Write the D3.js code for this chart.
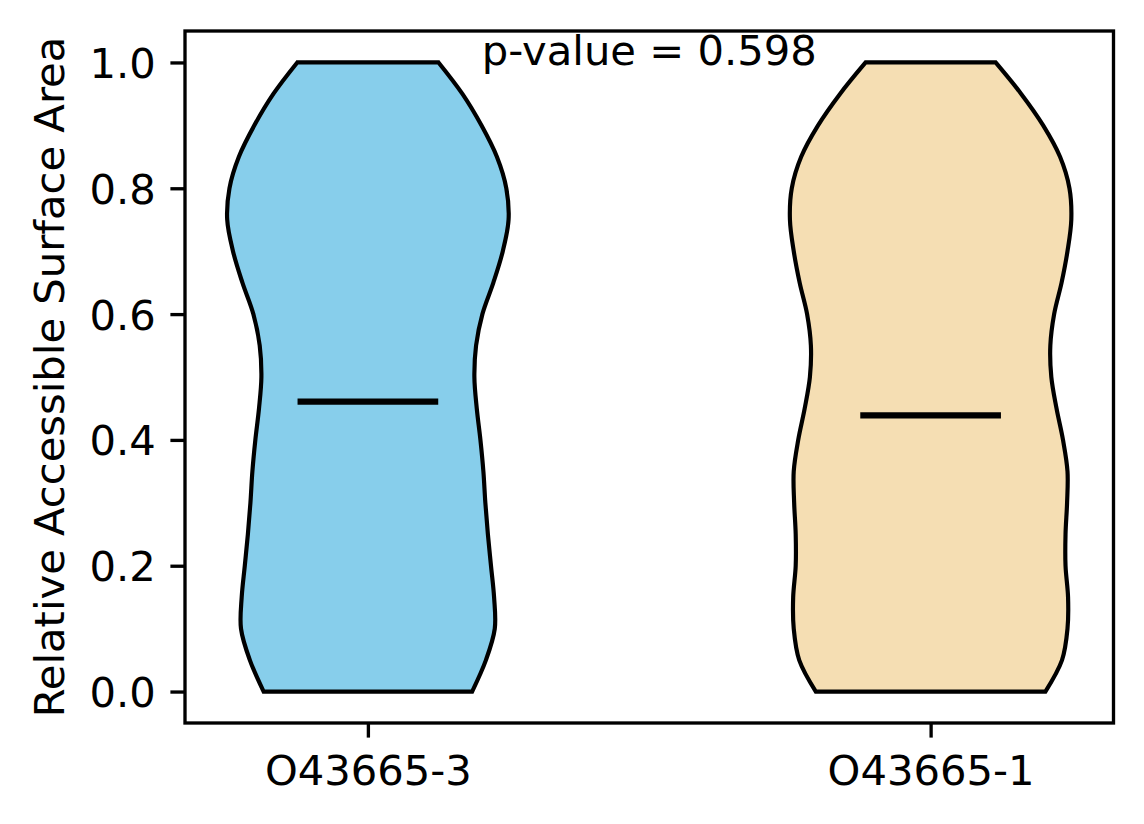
<!DOCTYPE html>
<html>
<head>
<meta charset="utf-8">
<script src="https://cdn.jsdelivr.net/npm/d3@7"></script>
<style>
  body { margin: 0; background: #fff; }
  svg { display: block; font-family: "DejaVu Sans", sans-serif; }
</style>
</head>
<body>
<div id="grafico"></div>
<script>
// Dados
const categorias = ["O43665-3", "O43665-1"];
const posicoes = [1, 2];
const coresViolino = ["#87CEEB", "#F5DEB3"];
// grade de valores de RSA onde a densidade foi lida
const gradeRsa = [0, 0.05, 0.1, 0.15, 0.2, 0.25, 0.3, 0.35, 0.4, 0.45, 0.5,
                  0.55, 0.6, 0.65, 0.7, 0.75, 0.8, 0.85, 0.9, 0.95, 1.0];
// densidade relativa (1 = largura máxima) de cada violino
const densidadeA = [0.741, 0.839, 0.902, 0.897, 0.875, 0.853, 0.835, 0.821, 0.800, 0.774, 0.757,
                    0.769, 0.814, 0.892, 0.959, 1.000, 0.984, 0.917, 0.807, 0.672, 0.502];
const densidadeB = [0.816, 0.934, 0.973, 0.977, 0.959, 0.959, 0.970, 0.973, 0.941, 0.895, 0.858,
                    0.851, 0.878, 0.931, 0.973, 1.000, 0.987, 0.920, 0.800, 0.644, 0.462];
const medianas = [0.461, 0.439];
const ticksY = [0, 0.2, 0.4, 0.6, 0.8, 1.0];
const textoP = "p-value = 0.598";
const rotuloY = "Relative Accessible Surface Area";

function criarGraficoViolino() {
    const largura = 1144;
    const altura = 824;
    const area = { left: 185, right: 1113.5, top: 31, bottom: 723 };
    const fonte = 41.7;
    const meiaLargura = 0.25; // metade do "widths=0.5" do matplotlib

    const svg = d3.select("#grafico")
        .append("svg")
        .attr("width", largura)
        .attr("height", altura);

    const x = d3.scaleLinear().domain([0.675, 2.325]).range([area.left, area.right]);
    const y = d3.scaleLinear().domain([-0.05, 1.05]).range([area.bottom, area.top]);

    const densidades = [densidadeA, densidadeB];

    // Violinos
    densidades.forEach((dens, i) => {
        const pontos = gradeRsa.map((v, j) => ({ v: v, d: dens[j] }));
        const gerador = d3.area()
            .y(d => y(d.v))
            .x0(d => x(posicoes[i] - meiaLargura * d.d))
            .x1(d => x(posicoes[i] + meiaLargura * d.d))
            .curve(d3.curveCatmullRom);
        svg.append("path")
            .datum(pontos)
            .attr("d", gerador)
            .attr("fill", coresViolino[i])
            .attr("stroke", "#000")
            .attr("stroke-width", 4.17)
            .attr("stroke-linejoin", "miter");
    });

    // Medianas
    svg.selectAll(".mediana")
        .data(medianas)
        .enter()
        .append("line")
        .attr("class", "mediana")
        .attr("x1", (d, i) => x(posicoes[i] - meiaLargura / 2))
        .attr("x2", (d, i) => x(posicoes[i] + meiaLargura / 2))
        .attr("y1", d => y(d))
        .attr("y2", d => y(d))
        .attr("stroke", "#000")
        .attr("stroke-width", 6.25);

    // Eixo Y
    const eixoY = svg.append("g")
        .attr("transform", `translate(${area.left},0)`)
        .call(d3.axisLeft(y).tickValues(ticksY).tickFormat(d3.format(".1f"))
            .tickSize(14.6).tickPadding(14.6));
    eixoY.select(".domain").remove();
    eixoY.selectAll("line").attr("stroke-width", 3.33);
    eixoY.selectAll("text")
        .attr("font-size", fonte)
        .attr("font-family", "DejaVu Sans")
        .attr("fill", "#000")
        .attr("dy", "0.36em");

    // Eixo X
    const eixoX = svg.append("g")
        .attr("transform", `translate(0,${area.bottom})`)
        .call(d3.axisBottom(x).tickValues(posicoes).tickFormat((d, i) => categorias[i])
            .tickSize(14.6).tickPadding(14.6));
    eixoX.select(".domain").remove();
    eixoX.selectAll("line").attr("stroke-width", 3.33);
    eixoX.selectAll("text")
        .attr("font-size", fonte)
        .attr("font-family", "DejaVu Sans")
        .attr("fill", "#000")
        .attr("dy", "0.78em");

    // Moldura
    svg.append("rect")
        .attr("x", area.left)
        .attr("y", area.top)
        .attr("width", area.right - area.left)
        .attr("height", area.bottom - area.top)
        .attr("fill", "none")
        .attr("stroke", "#000")
        .attr("stroke-width", 3.33);

    // Texto do p-valor
    svg.append("text")
        .attr("x", (area.left + area.right) / 2)
        .attr("y", 64.5)
        .attr("text-anchor", "middle")
        .attr("font-size", fonte)
        .text(textoP);

    // Rótulo do eixo Y
    svg.append("text")
        .attr("transform", `translate(63.5,${(area.top + area.bottom) / 2}) rotate(-90)`)
        .attr("text-anchor", "middle")
        .attr("font-size", fonte)
        .text(rotuloY);
}

criarGraficoViolino();
</script>
</body>
</html>
